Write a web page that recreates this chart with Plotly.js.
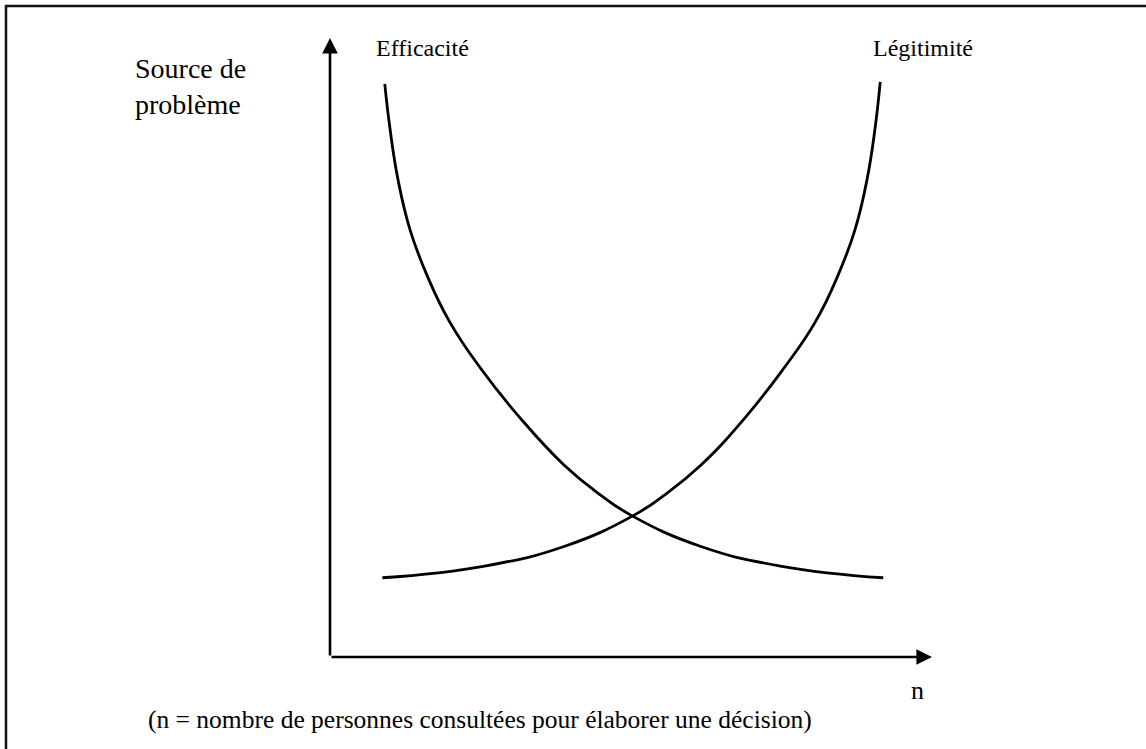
<!DOCTYPE html>
<html>
<head>
<meta charset="utf-8">
<script src="https://cdn.plot.ly/plotly-3.0.1.min.js"></script>
<style>html,body{margin:0;padding:0;background:#fff;}#chart{width:1146px;height:749px;}</style>
</head>
<body>
<div id="chart"></div>
<script>
// Data (n = number of people consulted, y = source of problem)
const efficaciteX = [0.91, 1.00, 1.13, 1.33, 1.61, 1.99, 2.52, 3.16, 3.90, 4.49, 5.02, 6.15, 7.48, 9.19];
const efficaciteY = [9.26, 8.51, 7.71, 6.90, 6.17, 5.41, 4.64, 3.86, 3.09, 2.62, 2.28, 1.79, 1.47, 1.28];
const legitimiteX = [0.87, 2.57, 3.90, 5.03, 5.56, 6.15, 6.89, 7.52, 8.06, 8.44, 8.72, 8.92, 9.05, 9.14];
const legitimiteY = [1.28, 1.47, 1.79, 2.28, 2.62, 3.09, 3.86, 4.64, 5.41, 6.17, 6.90, 7.71, 8.51, 9.29];
const seriesNames = ["Efficacité", "Légitimité"];
const yLabel = "Source de<br>problème";
const xLabel = "n";
const caption = "(n = nombre de personnes consultées pour élaborer une décision)";

const W = 1146, H = 749;
const px = v => v / W;
const py = v => 1 - v / H;
const FONT = "Liberation Serif, Times New Roman, serif";

const lineStyle = {color: "#000", width: 2.8, shape: "spline", smoothing: 1.3};
const traces = [
  {x: efficaciteX, y: efficaciteY, mode: "lines", line: lineStyle, name: seriesNames[0], hoverinfo: "skip"},
  {x: legitimiteX, y: legitimiteY, mode: "lines", line: lineStyle, name: seriesNames[1], hoverinfo: "skip"}
];

const axisCommon = {showgrid: false, zeroline: false, showline: false, showticklabels: false, ticks: "", fixedrange: true};

const txt = (text, x, y, size, xanchor) => ({
  xref: "paper", yref: "paper", x: px(x), y: py(y), xanchor: xanchor || "left", yanchor: "middle",
  align: "left", text: text, showarrow: false, font: {family: FONT, size: size, color: "#000"}
});

const layout = {
  width: W, height: H,
  margin: {l: 0, r: 0, t: 0, b: 0},
  paper_bgcolor: "#fff", plot_bgcolor: "#fff",
  showlegend: false,
  xaxis: Object.assign({}, axisCommon, {domain: [px(330), px(932)], range: [0, 10]}),
  yaxis: Object.assign({}, axisCommon, {domain: [py(657), py(38)], range: [0, 10]}),
  shapes: [
    {type: "rect", xref: "paper", yref: "paper", x0: px(6), x1: 1.05, y0: -0.05, y1: py(6),
     line: {color: "#111", width: 2.5}, fillcolor: "rgba(0,0,0,0)"}
  ],
  annotations: [
    {x: 10, y: 0, ax: 0, ay: 0, xref: "x", yref: "y", axref: "x", ayref: "y", text: "",
     showarrow: true, arrowhead: 2, arrowsize: 1.2, arrowwidth: 2.6, arrowcolor: "#000"},
    {x: 0, y: 10, ax: 0, ay: 0, xref: "x", yref: "y", axref: "x", ayref: "y", text: "",
     showarrow: true, arrowhead: 2, arrowsize: 1.2, arrowwidth: 2.6, arrowcolor: "#000"},
    txt(yLabel, 133, 86, 28),
    txt(seriesNames[0], 374, 48, 24),
    txt(seriesNames[1], 871, 48, 24),
    txt(xLabel, 917, 690, 26, "center"),
    txt(caption, 146, 719, 25.5)
  ]
};

Plotly.newPlot("chart", traces, layout, {staticPlot: true, displayModeBar: false});
</script>
</body>
</html>
